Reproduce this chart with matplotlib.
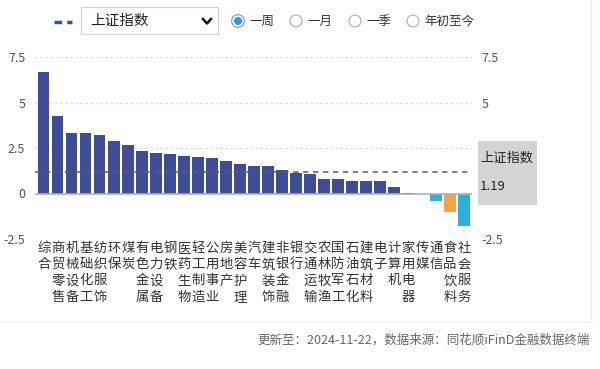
import matplotlib
matplotlib.use("Agg")
import matplotlib.pyplot as plt
from matplotlib.patches import Rectangle, Circle
from matplotlib.lines import Line2D

plt.rcParams['font.family'] = ['Noto Sans CJK SC', 'DejaVu Sans']

# ---- data ----
categories = ["综合", "商贸零售", "机械设备", "基础化工", "纺织服饰", "环保", "煤炭",
              "有色金属", "电力设备", "钢铁", "医药生物", "轻工制造", "公用事业", "房地产",
              "美容护理", "汽车", "建筑装饰", "非银金融", "银行", "交通运输", "农林牧渔",
              "国防军工", "石油石化", "建筑材料", "电子", "计算机", "家用电器", "传媒",
              "通信", "食品饮料", "社会服务"]
values = [6.69, 4.27, 3.34, 3.34, 3.19, 2.90, 2.68, 2.36, 2.21, 2.16, 2.05, 1.99,
          1.97, 1.79, 1.60, 1.51, 1.49, 1.27, 1.12, 1.05, 0.82, 0.77, 0.68, 0.68,
          0.68, 0.38, 0.03, -0.04, -0.43, -0.99, -1.79]
highlight = ["食品饮料"]
index_name = "上证指数"
index_value = 1.19
y_ticks = [-2.5, 0, 2.5, 5, 7.5]
y_tick_labels = ["-2.5", "0", "2.5", "5", "7.5"]
periods = ["一周", "一月", "一季", "年初至今"]
footer = "更新至：2024-11-22，数据来源：同花顺iFinD金融数据终端"

W, H = 600, 369
fig = plt.figure(figsize=(W / 100, H / 100), dpi=100)
fig.patch.set_facecolor("white")

def fx(x):
    return x / W

def fy(y):
    return 1 - y / H

# axes: x pixels 35..472, y pixels 57 (7.5) .. 239 (-2.5)
ax = fig.add_axes([fx(35), fy(239), fx(472) - fx(35), fy(57) - fy(239)])
ax.set_facecolor("none")

POS = "#3f4d99"
NEG = "#2eb0dc"
HL = "#f4a445"
colors = []
for c, v in zip(categories, values):
    if c in highlight:
        colors.append(HL)
    elif v >= 0:
        colors.append(POS)
    else:
        colors.append(NEG)

x = list(range(len(categories)))
ax.bar(x, values, width=0.79, color=colors, zorder=3)
ax.set_xlim(-0.64, len(categories) - 0.43)
ax.set_ylim(-2.5, 7.5)

for t in [2.5, 5, 7.5]:
    ax.axhline(t, color="#d8dde6", lw=0.9, ls=(0, (2, 2)), zorder=1)
ax.axhline(0, color="#a7b1c2", lw=1.2, zorder=4)
ax.axhline(index_value, color="#5a5f66", lw=1.1, ls=(0, (3.5, 3)), zorder=5)

for s in ax.spines.values():
    s.set_visible(False)

ax.set_yticks(y_ticks)
ax.set_yticklabels(y_tick_labels)
ax.tick_params(axis="y", length=0, labelsize=9, labelcolor="#555555",
               left=False, right=False, labelleft=True, labelright=True, pad=7)
box_top, box_bottom = 141, 205
for tk, val in zip(ax.yaxis.get_major_ticks(), y_ticks):
    tk.label1.set_horizontalalignment("right")
    tk.label2.set_horizontalalignment("left")
    tk.set_pad(7)
    # right labels that sit behind the index tag are hidden, as in the source
    if val in (0, 2.5):
        tk.label2.set_visible(False)

ax.set_xticks(x)
ax.set_xticklabels(["\n".join(c) for c in categories], fontsize=9.6,
                   color="#333333", linespacing=1.2, va="top")
ax.tick_params(axis="x", length=0, pad=1.5)

# right label box
fig.patches.append(Rectangle((fx(478), fy(box_bottom)), fx(537) - fx(478),
                             fy(box_top) - fy(box_bottom),
                             transform=fig.transFigure, facecolor="#d4d4d4",
                             edgecolor="none"))
fig.text(fx(480), fy(158), index_name, fontsize=9.5, color="#222222", va="center", ha="left")
fig.text(fx(480), fy(186), f"{index_value:.2f}", fontsize=9.5, color="#222222",
         va="center", ha="left")

# header
fig.lines.append(Line2D([fx(54), fx(72)], [fy(22), fy(22)], transform=fig.transFigure,
                        color="#2f5597", lw=2.5, ls=(0, (2.2, 1.5))))
fig.patches.append(Rectangle((fx(81), fy(34)), fx(218) - fx(81), fy(7) - fy(34),
                             transform=fig.transFigure, facecolor="white",
                             edgecolor="#cfd3d8", lw=0.8))
fig.text(fx(90), fy(21), index_name, fontsize=10.5, color="#222222", va="center", ha="left")
fig.lines.append(Line2D([fx(203), fx(207), fx(211)], [fy(19), fy(23.5), fy(19)],
                        transform=fig.transFigure, color="#111111", lw=1.8))

circle_x = [238, 296, 355, 413]
for i, (cx, lab) in enumerate(zip(circle_x, periods)):
    a = fig.add_axes([fx(cx - 7), fy(28), 14 / W, 14 / H])
    a.set_xlim(-7, 7); a.set_ylim(-7, 7); a.axis("off")
    if i == 0:
        a.add_patch(Circle((0, 0), 6.3, facecolor="white", edgecolor="#6aa6e8", lw=0.9))
        a.add_patch(Circle((0, 0), 4.0, facecolor="#3b8de6", edgecolor="none"))
    else:
        a.add_patch(Circle((0, 0), 6.0, facecolor="white", edgecolor="#a9adb2", lw=0.8))
    fig.text(fx(cx + 11), fy(21), lab, fontsize=9, color="#333333", va="center", ha="left")

# panel border
fig.lines.append(Line2D([0, fx(591)], [fy(322), fy(322)], transform=fig.transFigure,
                        color="#eeeeee", lw=1))
fig.lines.append(Line2D([fx(591), fx(591)], [fy(0), fy(322)], transform=fig.transFigure,
                        color="#eeeeee", lw=1))

fig.text(fx(590), fy(340), footer, fontsize=9, color="#666666", va="center", ha="right")

fig.savefig("out.png", dpi=100, facecolor="white")
